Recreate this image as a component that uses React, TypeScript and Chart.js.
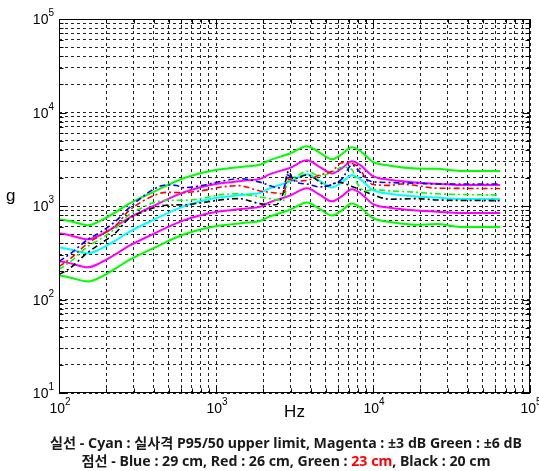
import React, { useEffect, useRef } from "react";
import { Chart, registerables } from "chart.js";
Chart.register(...registerables);

// ---- axis ticks ----
const X_DECADES = [100, 1000, 10000];
const Y_DECADES = [10, 100, 1000, 10000];
const MANTISSAS = [1, 2, 3, 4, 5, 6, 7, 8, 9];
const X_LABEL_EXPS = [2, 3, 4, 5];
const Y_LABEL_EXPS = [1, 2, 3, 4, 5];

// ---- solid reference lines ----
const FREQ_SOLID = [100, 117, 153, 182, 230, 275, 397, 616, 957, 1282, 1575, 1900, 2208, 2958, 3800, 4595, 5480, 6350, 7340, 8260, 10000, 12830, 19060, 25570, 35830, 64400];
const CYAN = [362, 345, 312, 345, 430, 520, 705, 985, 1200, 1280, 1330, 1380, 1550, 1820, 2180, 1850, 1580, 1800, 2130, 1950, 1480, 1350, 1260, 1230, 1190, 1190];
const MAGENTA_UP = [512, 487, 440, 487, 607, 735, 995, 1390, 1695, 1810, 1880, 1950, 2190, 2560, 3080, 2610, 2230, 2540, 3010, 2750, 2090, 1910, 1780, 1730, 1680, 1680];
const MAGENTA_LO = [257, 245, 221, 245, 305, 369, 500, 698, 851, 908, 943, 979, 1099, 1290, 1546, 1312, 1121, 1277, 1511, 1383, 1050, 957, 894, 870, 844, 844];
const GREEN_UP = [724, 690, 624, 690, 860, 1040, 1410, 1970, 2400, 2560, 2660, 2760, 3100, 3640, 4360, 3700, 3160, 3600, 4260, 3900, 2960, 2700, 2520, 2500, 2370, 2370];
const GREEN_LO = [181, 172, 156, 172, 215, 260, 352, 492, 600, 640, 665, 690, 775, 910, 1090, 925, 790, 900, 1065, 975, 740, 675, 630, 640, 598, 595];

// ---- dashed measured lines ----
const FREQ_BLUE = [100, 117, 153, 182, 230, 275, 340, 397, 480, 560, 616, 800, 1100, 1400, 1900, 2400, 2700, 2850, 3100, 3400, 3800, 4595, 5480, 6350, 7340, 8260, 9000, 10000, 12830, 19060, 25570, 64400];
const BLUE = [255, 305, 440, 520, 690, 930, 1250, 1500, 1680, 1660, 1570, 1650, 1850, 1960, 1800, 1580, 1550, 2150, 1900, 1750, 1720, 1600, 1700, 1950, 2750, 2300, 1950, 1820, 1780, 1750, 1720, 1720];
const FREQ_RED = [100, 117, 153, 182, 230, 275, 340, 397, 480, 616, 800, 1100, 1400, 1900, 2400, 2700, 2850, 3200, 3800, 4595, 5480, 6350, 7340, 8260, 9000, 10000, 12830, 15000, 19060, 25570, 64400];
const RED = [225, 270, 400, 480, 620, 870, 1120, 1280, 1400, 1390, 1450, 1600, 1650, 1450, 1380, 1350, 1950, 1850, 1880, 2150, 2350, 2900, 2850, 2500, 1950, 1700, 1660, 1720, 1650, 1550, 1540];
const FREQ_GREEN_D = [100, 117, 153, 182, 230, 275, 340, 397, 480, 616, 800, 1100, 1400, 1900, 2400, 2700, 2850, 3200, 3800, 4595, 5480, 6350, 7340, 8000, 9000, 10000, 12830, 19060, 25570, 64400];
const GREEN_D = [210, 250, 370, 440, 580, 790, 960, 1080, 1150, 1150, 1200, 1330, 1350, 1250, 1170, 1150, 1800, 2050, 2350, 2100, 2300, 2600, 2450, 1700, 1450, 1500, 1450, 1400, 1350, 1310];
const FREQ_BLACK = [100, 117, 153, 182, 230, 275, 340, 397, 480, 616, 800, 1100, 1400, 1900, 2400, 2650, 2900, 3100, 3800, 4595, 5000, 6000, 7340, 8260, 10000, 12830, 19060, 25570, 64400];
const BLACK = [185, 215, 320, 390, 520, 720, 860, 950, 1020, 1030, 1080, 1170, 1200, 1060, 1030, 1300, 2350, 1950, 2150, 1800, 1620, 1800, 1620, 1500, 1320, 1180, 1200, 1160, 1140];

const CAPTION_1 = "실선 - Cyan : 실사격 P95/50 upper limit, Magenta : ±3 dB Green : ±6 dB";
const CAPTION_2 = [
  { t: "점선 - Blue : 29 cm, Red : 26 cm, Green : ", c: "#1a1a1a" },
  { t: "23 cm", c: "#ff0000" },
  { t: ", Black : 20 cm", c: "#1a1a1a" },
];

const X_TICKS = X_DECADES.flatMap((d) => MANTISSAS.map((m) => m * d)).concat([100000]);
const Y_TICKS = Y_DECADES.flatMap((d) => MANTISSAS.map((m) => m * d)).concat([100000]);

const pts = (f: number[], v: number[]) => f.map((x, i) => ({ x, y: v[i] }));

const overlay = {
  id: "overlay",
  afterDraw(chart: any) {
    const { ctx, chartArea: a } = chart;
    const xs = chart.scales.x;
    const ys = chart.scales.y;
    ctx.save();
    ctx.setLineDash([]);
    ctx.strokeStyle = "#000";
    ctx.lineWidth = 1;
    const L = Math.round(a.left) + 0.5, R = Math.round(a.right) - 0.5;
    const T = Math.round(a.top) + 0.5, B = Math.round(a.bottom) - 0.5;
    ctx.strokeRect(L, T, R - L, B - T);
    // inward ticks
    ctx.beginPath();
    X_TICKS.forEach((v) => {
      const major = X_LABEL_EXPS.some((e) => Math.abs(Math.pow(10, e) - v) < 1e-6);
      const len = major ? 7 : 4;
      const px = Math.round(xs.getPixelForValue(v)) + 0.5;
      ctx.moveTo(px, B); ctx.lineTo(px, B - len);
      ctx.moveTo(px, T); ctx.lineTo(px, T + len);
    });
    Y_TICKS.forEach((v) => {
      const major = Y_LABEL_EXPS.some((e) => Math.abs(Math.pow(10, e) - v) < 1e-6);
      const len = major ? 7 : 4;
      const py = Math.round(ys.getPixelForValue(v)) + 0.5;
      ctx.moveTo(L, py); ctx.lineTo(L + len, py);
      ctx.moveTo(R, py); ctx.lineTo(R - len, py);
    });
    ctx.stroke();

    // tick labels
    ctx.fillStyle = "#000";
    ctx.textBaseline = "alphabetic";
    const big = "14px 'Liberation Sans', Arial, sans-serif";
    const small = "10px 'Liberation Sans', Arial, sans-serif";
    X_LABEL_EXPS.forEach((e) => {
      const px = xs.getPixelForValue(Math.pow(10, e));
      ctx.font = big; const w1 = ctx.measureText("10").width;
      ctx.font = small; const w2 = ctx.measureText(String(e)).width;
      const x0 = px - (w1 + w2) / 2 + 1;
      ctx.font = big; ctx.textAlign = "left"; ctx.fillText("10", x0, a.bottom + 20);
      ctx.font = small; ctx.fillText(String(e), x0 + w1, a.bottom + 12);
    });
    Y_LABEL_EXPS.forEach((e) => {
      const py = ys.getPixelForValue(Math.pow(10, e));
      ctx.font = small; const w2 = ctx.measureText(String(e)).width;
      const xr = a.left - 5;
      ctx.textAlign = "left";
      ctx.fillText(String(e), xr - w2, py - 3);
      ctx.font = big; ctx.textAlign = "right";
      ctx.fillText("10", xr - w2, py + 5);
    });
    // axis titles
    ctx.font = "17px 'Liberation Sans', Arial, sans-serif";
    ctx.textAlign = "center";
    ctx.fillText("Hz", (a.left + a.right) / 2, a.bottom + 24);
    ctx.textAlign = "left";
    ctx.fillText("g", 6, 201);

    // caption
    const fam = "'Noto Sans', 'Noto Sans CJK KR', sans-serif";
    let fs = 13;
    ctx.font = `bold ${fs}px ${fam}`;
    const w = ctx.measureText(CAPTION_1).width;
    fs = (fs * 472) / w;
    ctx.font = `bold ${fs.toFixed(2)}px ${fam}`;
    const cx = 286;
    ctx.fillStyle = "#1a1a1a";
    ctx.textAlign = "center";
    ctx.fillText(CAPTION_1, cx, 448);
    const tw = CAPTION_2.reduce((s, p) => s + ctx.measureText(p.t).width, 0);
    let x = cx - tw / 2;
    ctx.textAlign = "left";
    CAPTION_2.forEach((p) => {
      ctx.fillStyle = p.c;
      ctx.fillText(p.t, x, 466);
      x += ctx.measureText(p.t).width;
    });
    ctx.restore();
  },
};

export default function App() {
  const ref = useRef<HTMLCanvasElement | null>(null);
  useEffect(() => {
    if (!ref.current) return;
    const solid = (label: string, f: number[], v: number[], color: string) => ({
      label, data: pts(f, v), borderColor: color, borderWidth: 2, pointRadius: 0,
      fill: false, tension: 0.3, cubicInterpolationMode: "monotone" as const,
    });
    const dashed = (label: string, f: number[], v: number[], color: string) => ({
      label, data: pts(f, v), borderColor: color, borderWidth: 1.6, pointRadius: 0,
      borderDash: [6, 3, 2, 3], fill: false, tension: 0.2, cubicInterpolationMode: "monotone" as const,
    });
    const chart = new Chart(ref.current, {
      type: "line",
      data: {
        datasets: [
          dashed("Blue 29 cm", FREQ_BLUE, BLUE, "#0000ff"),
          dashed("Red 26 cm", FREQ_RED, RED, "#ff0000"),
          dashed("Green 23 cm", FREQ_GREEN_D, GREEN_D, "#00ff00"),
          dashed("Black 20 cm", FREQ_BLACK, BLACK, "#000000"),
          solid("Cyan", FREQ_SOLID, CYAN, "#00ffff"),
          solid("Magenta +3 dB", FREQ_SOLID, MAGENTA_UP, "#ff00ff"),
          solid("Magenta -3 dB", FREQ_SOLID, MAGENTA_LO, "#ff00ff"),
          solid("Green +6 dB", FREQ_SOLID, GREEN_UP, "#00ff00"),
          solid("Green -6 dB", FREQ_SOLID, GREEN_LO, "#00ff00"),
        ],
      },
      options: {
        animation: false,
        responsive: false,
        devicePixelRatio: 1,
        layout: { padding: { left: 59, top: 19, right: 9, bottom: 78 } },
        plugins: { legend: { display: false }, tooltip: { enabled: false } },
        scales: {
          x: {
            type: "logarithmic", min: 100, max: 100000,
            ticks: { display: false },
            grid: { color: "#222", lineWidth: 1, drawTicks: false },
            border: { display: false, dash: [3, 3] },
            afterBuildTicks: (s: any) => { s.ticks = X_TICKS.map((value) => ({ value })); },
          },
          y: {
            type: "logarithmic", min: 10, max: 100000,
            ticks: { display: false },
            grid: { color: "#222", lineWidth: 1, drawTicks: false },
            border: { display: false, dash: [3, 3] },
            afterBuildTicks: (s: any) => { s.ticks = Y_TICKS.map((value) => ({ value })); },
          },
        },
      },
      plugins: [overlay],
    });
    return () => chart.destroy();
  }, []);
  return (
    <div style={{ position: "absolute", left: 0, top: 0, width: 539, height: 471, background: "#fff" }}>
      <canvas ref={ref} width={539} height={471} style={{ width: 539, height: 471, display: "block" }} />
    </div>
  );
}
